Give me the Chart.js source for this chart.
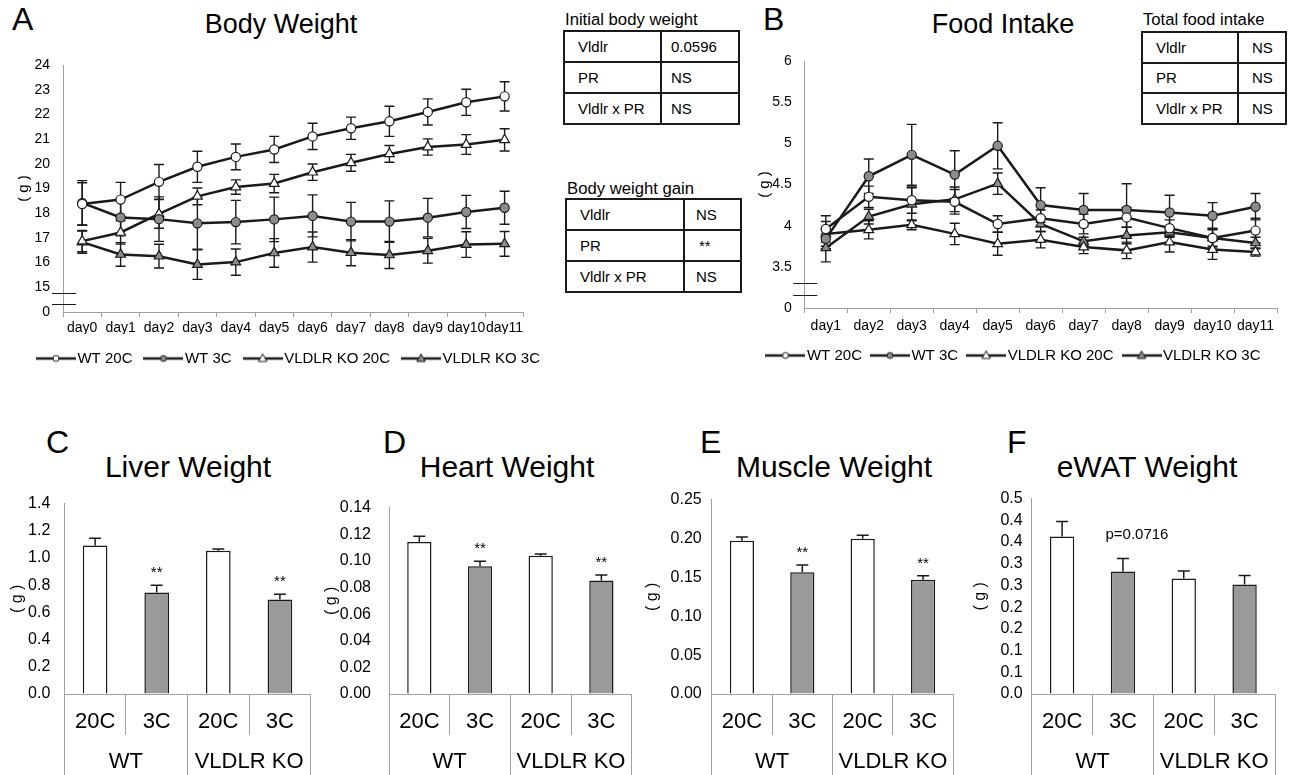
<!DOCTYPE html>
<html><head><meta charset="utf-8">
<script src="https://cdn.jsdelivr.net/npm/chart.js@4/dist/chart.umd.min.js"></script>
<style>
html,body{margin:0;padding:0;background:#fff;}
body{width:1304px;height:775px;position:relative;overflow:hidden;font-family:"Liberation Sans",Arial,sans-serif;color:#000;}
canvas{position:absolute;}
.letter{position:absolute;font-size:32px;line-height:32px;}
.title{position:absolute;width:320px;text-align:center;white-space:nowrap;}
.cap{position:absolute;font-size:16.7px;line-height:17px;white-space:nowrap;}
table.st{position:absolute;border-collapse:collapse;table-layout:fixed;font-size:15px;}
table.st td{border:2px solid #1a1a1a;padding:0 0 0 13px;white-space:nowrap;}
</style>
</head><body>

<div class="letter" style="left:12px;top:3px;">A</div>
<div class="title" style="left:121px;top:11px;font-size:27px;line-height:27px;">Body Weight</div>
<div class="letter" style="left:763px;top:3px;">B</div>
<div class="title" style="left:843px;top:11px;font-size:27px;line-height:27px;">Food Intake</div>

<div class="cap" style="left:565px;top:11px;">Initial body weight</div>
<table class="st" style="left:563px;top:30px;width:177px;height:95px;">
<colgroup><col style="width:97px"><col></colgroup>
<tr><td>Vldlr</td><td style="padding-left:9px">0.0596</td></tr>
<tr><td>PR</td><td style="padding-left:9px">NS</td></tr>
<tr><td>Vldlr x PR</td><td style="padding-left:9px">NS</td></tr>
</table>

<div class="cap" style="left:567px;top:180px;">Body weight gain</div>
<table class="st" style="left:565px;top:198px;width:177px;height:95px;">
<colgroup><col style="width:118px"><col></colgroup>
<tr><td>Vldlr</td><td style="padding-left:11px">NS</td></tr>
<tr><td>PR</td><td style="padding-left:14px">**</td></tr>
<tr><td>Vldlr x PR</td><td style="padding-left:11px">NS</td></tr>
</table>

<div class="cap" style="left:1143px;top:11px;">Total food intake</div>
<table class="st" style="left:1141px;top:31px;width:146px;height:94px;">
<colgroup><col style="width:96px"><col></colgroup>
<tr><td>Vldlr</td><td style="padding-left:13px">NS</td></tr>
<tr><td>PR</td><td style="padding-left:13px">NS</td></tr>
<tr><td>Vldlr x PR</td><td style="padding-left:13px">NS</td></tr>
</table>

<div class="letter" style="left:46px;top:426px;">C</div>
<div class="letter" style="left:383px;top:426px;">D</div>
<div class="letter" style="left:700px;top:426px;">E</div>
<div class="letter" style="left:1007px;top:426px;">F</div>
<div class="title" style="left:28px;top:452px;font-size:30px;line-height:30px;">Liver Weight</div>
<div class="title" style="left:347px;top:452px;font-size:30px;line-height:30px;">Heart Weight</div>
<div class="title" style="left:674px;top:452px;font-size:30px;line-height:30px;">Muscle Weight</div>
<div class="title" style="left:987px;top:452px;font-size:30px;line-height:30px;">eWAT Weight</div>

<canvas id="cA" width="546" height="336" style="left:18px;top:40px;"></canvas>
<canvas id="cB" width="576" height="333" style="left:728px;top:40px;"></canvas>
<canvas id="cC" width="320" height="295" style="left:0px;top:480px;"></canvas>
<canvas id="cD" width="320" height="295" style="left:320px;top:480px;"></canvas>
<canvas id="cE" width="320" height="295" style="left:640px;top:480px;"></canvas>
<canvas id="cF" width="342" height="295" style="left:962px;top:480px;"></canvas>

<script>
// ---------------- DATA ----------------
const seriesNames = ['WT 20C', 'WT 3C', 'VLDLR KO 20C', 'VLDLR KO 3C'];

// A: Body weight
const bwDays = ['day0','day1','day2','day3','day4','day5','day6','day7','day8','day9','day10','day11'];
const bwWT20 = [18.37, 18.55, 19.27, 19.88, 20.28, 20.58, 21.11, 21.44, 21.72, 22.10, 22.49, 22.73];
const bwWT20Err = [0.86, 0.70, 0.70, 0.63, 0.52, 0.53, 0.53, 0.45, 0.61, 0.53, 0.53, 0.59];
const bwWT3 = [18.42, 17.83, 17.76, 17.59, 17.64, 17.75, 17.89, 17.66, 17.66, 17.82, 18.05, 18.22];
const bwWT3Err = [0.90, 0.75, 0.90, 1.05, 0.88, 0.90, 0.85, 0.78, 0.84, 0.78, 0.67, 0.67];
const bwKO20 = [16.87, 17.22, 17.97, 18.68, 19.06, 19.20, 19.66, 20.04, 20.40, 20.68, 20.78, 20.97];
const bwKO20Err = [0.43, 0.47, 0.58, 0.34, 0.29, 0.37, 0.33, 0.34, 0.34, 0.33, 0.40, 0.45];
const bwKO3 = [16.83, 16.33, 16.26, 15.92, 16.02, 16.39, 16.63, 16.40, 16.31, 16.48, 16.73, 16.76];
const bwKO3Err = [0.45, 0.48, 0.48, 0.60, 0.53, 0.58, 0.61, 0.53, 0.55, 0.50, 0.52, 0.50];
const bwTickLabels = ['0','15','16','17','18','19','20','21','22','23','24'];

// B: Food intake
const fiDays = ['day1','day2','day3','day4','day5','day6','day7','day8','day9','day10','day11'];
const fiWT20 = [3.96, 4.35, 4.31, 4.29, 4.02, 4.09, 4.02, 4.10, 3.97, 3.85, 3.94];
const fiWT20Err = [0.16, 0.13, 0.16, 0.15, 0.10, 0.10, 0.12, 0.12, 0.10, 0.12, 0.15];
const fiWT3 = [3.84, 4.60, 4.86, 4.62, 4.97, 4.25, 4.19, 4.19, 4.16, 4.12, 4.23];
const fiWT3Err = [0.12, 0.21, 0.37, 0.29, 0.28, 0.21, 0.20, 0.32, 0.21, 0.16, 0.16];
const fiKO20 = [3.90, 3.95, 4.01, 3.90, 3.78, 3.83, 3.74, 3.70, 3.80, 3.71, 3.68];
const fiKO20Err = [0.15, 0.11, 0.06, 0.13, 0.14, 0.10, 0.08, 0.10, 0.12, 0.12, 0.05];
const fiKO3 = [3.73, 4.11, 4.26, 4.32, 4.51, 4.02, 3.81, 3.88, 3.92, 3.85, 3.79];
const fiKO3Err = [0.17, 0.09, 0.20, 0.15, 0.13, 0.09, 0.05, 0.10, 0.06, 0.10, 0.07];
const fiTickLabels = ['0','3.5','4','4.5','5','5.5','6'];

// C-F: organ weights
const conditions = ['20C', '3C', '20C', '3C'];
const genotypes = ['WT', 'VLDLR KO'];
const liver = [1.092, 0.746, 1.054, 0.694];
const liverErr = [0.054, 0.054, 0.012, 0.040];
const liverNotes = ['', '**', '', '**'];
const liverTicks = ['0.0','0.2','0.4','0.6','0.8','1.0','1.2','1.4'];
const heart = [0.1142, 0.0959, 0.1038, 0.0853];
const heartErr = [0.0043, 0.0038, 0.0014, 0.0040];
const heartNotes = ['', '**', '', '**'];
const heartTicks = ['0.00','0.02','0.04','0.06','0.08','0.10','0.12','0.14'];
const muscle = [0.197, 0.1565, 0.1996, 0.147];
const muscleErr = [0.005, 0.0095, 0.0047, 0.005];
const muscleNotes = ['', '**', '', '**'];
const muscleTicks = ['0.00','0.05','0.10','0.15','0.20','0.25'];
const ewat = [0.363, 0.282, 0.266, 0.252];
const ewatErr = [0.034, 0.030, 0.017, 0.021];
const ewatNotes = ['', 'p=0.0716', '', ''];
const ewatTicks = ['0.0','0.1','0.1','0.2','0.2','0.3','0.3','0.4','0.4','0.5'];

// ---------------- STYLE ----------------
const FONT = '"Liberation Sans", Arial, sans-serif';
Chart.defaults.font.family = FONT;
Chart.defaults.color = '#000';
const AXIS = '#a0a0a0';
const INK = '#1a1a1a';
const GRAYFILL = '#8c8c8c';
const shapes = ['circle', 'circle', 'triangle', 'triangle'];
const fills = ['#ffffff', GRAYFILL, '#ffffff', GRAYFILL];
const barFills = ['#ffffff', '#9a9a9a', '#ffffff', '#9a9a9a'];

function legendMarker(shape, fill) {
  const c = document.createElement('canvas');
  c.width = 40; c.height = 12;
  const g = c.getContext('2d');
  g.strokeStyle = INK; g.lineWidth = 2.5;
  g.beginPath(); g.moveTo(0, 6); g.lineTo(40, 6); g.stroke();
  g.fillStyle = fill; g.lineWidth = 1;
  g.beginPath();
  if (shape === 'circle') g.arc(20, 6, 3, 0, Math.PI * 2);
  else { g.moveTo(20, 1.5); g.lineTo(24.2, 9); g.lineTo(15.8, 9); g.closePath(); }
  g.fill(); g.stroke();
  return c;
}
const legendImgs = shapes.map((s, i) => legendMarker(s, fills[i]));

const lineErr = {
  id: 'lineErr',
  beforeDatasetsDraw(chart) {
    const ctx = chart.ctx, y = chart.scales.y;
    ctx.save();
    ctx.strokeStyle = INK; ctx.lineWidth = 1.4;
    chart.data.datasets.forEach((ds, i) => {
      chart.getDatasetMeta(i).data.forEach((pt, j) => {
        const v = ds.data[j], e = ds.errors[j];
        const yt = y.getPixelForValue(v + e), yb = y.getPixelForValue(v - e);
        ctx.beginPath();
        ctx.moveTo(pt.x, yt); ctx.lineTo(pt.x, yb);
        ctx.moveTo(pt.x - 5, yt); ctx.lineTo(pt.x + 5, yt);
        ctx.moveTo(pt.x - 5, yb); ctx.lineTo(pt.x + 5, yb);
        ctx.stroke();
      });
    });
    ctx.restore();
  }
};

const axisBreak = {
  id: 'axisBreak',
  afterDraw(chart, args, o) {
    if (!o.values) return;
    const ctx = chart.ctx, y = chart.scales.y, x0 = chart.chartArea.left;
    ctx.save();
    ctx.strokeStyle = INK; ctx.lineWidth = 1;
    o.values.forEach(v => {
      const py = Math.round(y.getPixelForValue(v)) + 0.5;
      ctx.beginPath(); ctx.moveTo(x0 + o.dx1, py); ctx.lineTo(x0 + o.dx2, py); ctx.stroke();
    });
    ctx.restore();
  }
};

function lineChart(id, labels, values, errors, c) {
  const datasets = values.map((vals, i) => ({
    label: seriesNames[i], data: vals, errors: errors[i],
    borderColor: INK, borderWidth: 2.5, backgroundColor: fills[i],
    pointStyle: shapes[i], pointRadius: shapes[i] === 'circle' ? 4.6 : 5.6,
    pointBorderColor: INK, pointBorderWidth: 1.2, pointBackgroundColor: fills[i],
    tension: 0, clip: false
  }));
  return new Chart(document.getElementById(id), {
    type: 'line',
    data: { labels, datasets },
    plugins: [lineErr, axisBreak],
    options: {
      responsive: false, animation: false, events: [],
      layout: { padding: { left: 0, right: 0, top: c.padTop, bottom: 0 } },
      plugins: {
        tooltip: { enabled: false },
        axisBreak: { values: c.breaks, dx1: -11, dx2: 13 },
        legend: {
          position: 'bottom',
          labels: {
            usePointStyle: true, pointStyleWidth: 28, padding: c.legPad, color: '#000',
            font: { size: 15 },
            generateLabels: ch => Chart.defaults.plugins.legend.labels.generateLabels(ch)
              .map((it, i) => Object.assign(it, { pointStyle: legendImgs[i] }))
          }
        }
      },
      scales: {
        x: {
          offset: true,
          grid: { offset: true, drawOnChartArea: false, tickLength: 5, color: AXIS },
          border: { color: AXIS },
          ticks: { font: { size: 14 }, color: '#000', padding: c.xPad, autoSkip: false, maxRotation: 0 },
          afterFit: s => { s.height = c.xH; }
        },
        y: {
          min: c.min, max: c.max,
          afterBuildTicks: s => { s.ticks = c.tickLabels.map((_, i) => ({ value: c.min + i * c.step })); },
          ticks: { font: { size: 14 }, color: '#000', padding: c.yPad, autoSkip: false, callback: (v, i) => c.tickLabels[i] },
          grid: { drawOnChartArea: false, drawTicks: false, color: AXIS },
          border: { color: AXIS },
          title: { display: true, text: '( g )', font: { size: 15 }, color: '#000', padding: { top: c.tPad, bottom: 0 } },
          afterFit: s => { s.width = c.yW; }
        },
        yR: {
          type: 'linear', position: 'right', min: 0, max: 1,
          grid: { display: false }, border: { display: false }, ticks: { display: false },
          afterFit: s => { s.width = c.rW; }
        }
      }
    }
  });
}

const barExtras = {
  id: 'barExtras',
  afterDatasetsDraw(chart, args, o) {
    const ctx = chart.ctx, y = chart.scales.y;
    const ds = chart.data.datasets[0];
    ctx.save();
    ctx.strokeStyle = INK; ctx.lineWidth = 1.5;
    chart.getDatasetMeta(0).data.forEach((bar, j) => {
      const x = bar.x;
      const top = y.getPixelForValue(ds.data[j]);
      const et = y.getPixelForValue(ds.data[j] + ds.errors[j]);
      ctx.beginPath();
      ctx.moveTo(x, top); ctx.lineTo(x, et);
      ctx.moveTo(x - 6, et); ctx.lineTo(x + 6, et);
      ctx.stroke();
      if (ds.notes[j]) {
        ctx.fillStyle = '#000';
        ctx.font = '15px ' + FONT;
        ctx.textAlign = 'center'; ctx.textBaseline = 'alphabetic';
        ctx.fillText(ds.notes[j], x + o.dx, et + o.dy);
      }
    });
    ctx.restore();
  }
};

function barChart(id, values, errors, notes, tickLabels, c) {
  const step = c.max / (tickLabels.length - 1);
  return new Chart(document.getElementById(id), {
    type: 'bar',
    data: {
      labels: conditions,
      datasets: [{
        data: values, errors, notes,
        backgroundColor: barFills, borderColor: INK, borderWidth: 1.5,
        barPercentage: 0.4, categoryPercentage: 1
      }]
    },
    plugins: [barExtras],
    options: {
      responsive: false, animation: false, events: [],
      layout: { padding: c.pad },
      plugins: { legend: { display: false }, tooltip: { enabled: false }, barExtras: { dx: c.dx, dy: c.dy } },
      scales: {
        x: {
          type: 'category', position: 'bottom', offset: true, weight: 0,
          grid: { offset: true, drawOnChartArea: false, tickLength: 41, color: AXIS },
          border: { color: AXIS },
          ticks: { font: { size: 22 }, color: '#000', padding: -26.4, autoSkip: false, maxRotation: 0 },
          afterFit: s => { s.height = 41; }
        },
        x2: {
          type: 'category', labels: genotypes, position: 'bottom', offset: true, weight: 1,
          grid: { offset: true, drawOnChartArea: false, tickLength: 40, color: AXIS },
          border: { display: false },
          ticks: { font: { size: 22 }, color: '#000', padding: -26.4, autoSkip: false, maxRotation: 0 },
          afterFit: s => { s.height = 40; }
        },
        y: {
          min: 0, max: c.max,
          afterBuildTicks: s => { s.ticks = tickLabels.map((_, i) => ({ value: i * step })); },
          ticks: { font: { size: 16 }, color: '#000', padding: c.yPad, autoSkip: false, callback: (v, i) => tickLabels[i] },
          grid: { drawOnChartArea: false, drawTicks: false, color: AXIS },
          border: { color: AXIS },
          title: { display: true, text: '( g )', font: { size: 16 }, color: '#000', padding: { top: c.tPad, bottom: 0 } },
          afterFit: s => { s.width = c.yW; }
        }
      }
    }
  });
}

lineChart('cA', bwDays, [bwWT20, bwWT3, bwKO20, bwKO3], [bwWT20Err, bwWT3Err, bwKO20Err, bwKO3Err], {
  padTop: 25, yW: 45, rW: 40.2, tPad: -3, yPad: 13, legPad: 17,
  xH: 22, xPad: 2.8, min: 14, max: 24, step: 1, tickLabels: bwTickLabels, breaks: [14.75, 14.32]
});
lineChart('cB', fiDays, [fiWT20, fiWT3, fiKO20, fiKO3], [fiWT20Err, fiWT3Err, fiKO20Err, fiKO3Err], {
  padTop: 20, yW: 76.3, rW: 27, tPad: 28, yPad: 12.6, legPad: 14,
  xH: 26, xPad: 4.3, min: 3, max: 6, step: 0.5, tickLabels: fiTickLabels, breaks: [3.30, 3.16]
});

barChart('cC', liver, liverErr, liverNotes, liverTicks, { max: 1.4, pad: { left: 0, right: 9.3, top: 17.3, bottom: 0 }, yW: 64.3, tPad: 8.4, yPad: 14, dx: 0, dy: -8 });
barChart('cD', heart, heartErr, heartNotes, heartTicks, { max: 0.14, pad: { left: 0, right: 8.3, top: 17.3, bottom: 0 }, yW: 69, tPad: 2.4, yPad: 18, dx: 0, dy: -8 });
barChart('cE', muscle, muscleErr, muscleNotes, muscleTicks, { max: 0.25, pad: { left: 0, right: 6.7, top: 17.3, bottom: 0 }, yW: 71.7, tPad: 3.4, yPad: 10, dx: 0, dy: -8 });
barChart('cF', ewat, ewatErr, ewatNotes, ewatTicks, { max: 0.45, pad: { left: 0, right: 29, top: 17.3, bottom: 0 }, yW: 69.7, tPad: 9.4, yPad: 9, dx: 14, dy: -20 });
</script>
</body></html>
